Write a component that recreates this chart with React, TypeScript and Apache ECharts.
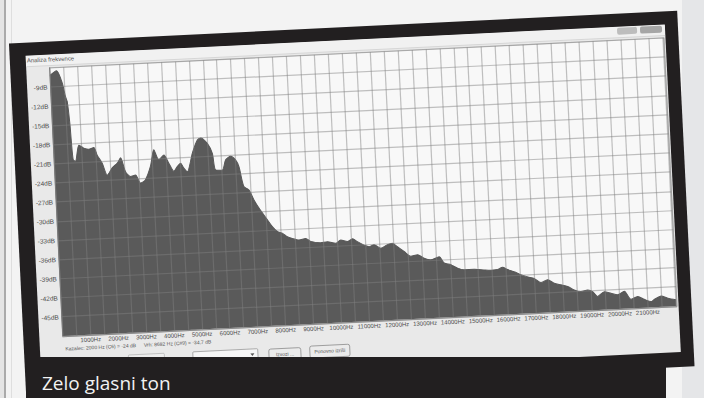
import React, { useEffect, useRef } from 'react';
import * as echarts from 'echarts';

// Spectrum: frequency (Hz) and level (dB)
const freqHz = [0, 245, 430, 520, 575, 630, 685, 765, 915, 1085, 1265, 1445, 1555, 1720, 1880, 2070, 2260, 2385, 2540, 2710, 2890, 3060, 3240, 3445, 3590, 3750, 3940, 4105, 4270, 4400, 4525, 4635, 4750, 4965, 5165, 5285, 5515, 5680, 5765, 6005, 6145, 6330, 6500, 6610, 6750, 6930, 7090, 7255, 7535, 7700, 7870, 8045, 8220, 8395, 8630, 8875, 9045, 9405, 9645, 9940, 10125, 10360, 10550, 10720, 10955, 11130, 11310, 11545, 11790, 11970, 12145, 12375, 12605, 12850, 13080, 13315, 13620, 13790, 14025, 14260, 14490, 14855, 15210, 15450, 15690, 15875, 16045, 16285, 16515, 16755, 16985, 17220, 17460, 17695, 17930, 18170, 18400, 18640, 18880, 19055, 19225, 19475, 19710, 19945, 20190, 20415, 20660, 20890, 21130, 21250, 21500, 21735, 22030];
const levelDb = [-7.2, -6.5, -8.5, -10.6, -11.4, -14.8, -20.5, -20.8, -18.3, -18.8, -19.0, -18.8, -20.0, -21.3, -23.2, -22.1, -21.4, -20.6, -22.8, -23.6, -23.4, -24.7, -24.2, -22.1, -19.6, -21.2, -20.5, -21.8, -23.1, -22.4, -21.9, -22.7, -23.3, -20.4, -18.4, -18.1, -19.0, -20.6, -23.2, -23.3, -21.7, -21.2, -21.8, -22.9, -26.0, -26.6, -28.2, -29.5, -31.4, -32.5, -33.3, -33.6, -34.2, -34.5, -34.8, -34.6, -35.1, -35.4, -35.3, -35.6, -35.1, -35.4, -35.0, -35.5, -36.1, -36.4, -36.1, -36.7, -36.2, -36.0, -36.6, -37.4, -38.2, -38.0, -38.6, -38.9, -38.5, -39.5, -39.8, -40.4, -40.7, -40.7, -40.9, -41.0, -40.9, -40.6, -41.0, -41.4, -41.9, -42.3, -42.6, -43.3, -42.9, -43.5, -43.8, -44.1, -44.7, -45.0, -44.8, -45.1, -45.9, -45.2, -45.5, -45.8, -45.3, -46.6, -46.2, -46.7, -47.1, -46.8, -46.3, -46.7, -47.0];

// Axis settings
const xMin = 0;
const xMax = 22050;
const xStep = 500;
const xLabelStep = 1000;
const xLabelLast = 21000;
const yMin = -48;
const yMax = -6;
const yStep = 3;

// Texts
const caption = 'Zelo glasni ton';
const windowTitle = 'Analiza frekvence';
const statusCursor = 'Kazalec: 2000 Hz (C6) = -24 dB';
const statusPeak = 'Vrh: 8682 Hz (C#9) = -34,7 dB';
const buttonLabels = ['Izvozi ...', 'Ponovno izriši'];

const uiFont = '"Liberation Sans", "DejaVu Sans", sans-serif';

export default function App() {
  const ref = useRef<HTMLDivElement>(null);

  useEffect(() => {
    if (!ref.current) return;
    const chart = echarts.init(ref.current, null, { renderer: 'svg' });
    const gridLine = { color: 'rgba(128,128,128,0.48)', width: 1.2 };
    chart.setOption({
      animation: false,
      grid: {
        left: 23.3,
        top: 13.3,
        width: 616,
        height: 268.6,
        show: true,
        backgroundColor: '#f8f8f8',
        borderWidth: 1,
        borderColor: '#c4c4c4',
      },
      xAxis: {
        type: 'value',
        min: xMin,
        max: xMax,
        interval: xStep,
        z: 10,
        axisLine: { show: true, lineStyle: { color: '#8c8c8c', width: 1 } },
        axisTick: { show: false },
        axisLabel: {
          fontSize: 6,
          color: '#4a4a4a',
          margin: 2,
          fontFamily: uiFont,
          showMaxLabel: false,
          formatter: (v: number) =>
            v > 0 && v <= xLabelLast && v % xLabelStep === 0 ? `${v}Hz` : '',
        },
        splitLine: { show: true, lineStyle: gridLine },
      },
      yAxis: {
        type: 'value',
        min: yMin,
        max: yMax,
        interval: yStep,
        z: 10,
        axisLine: { show: true, lineStyle: { color: '#7a7a7a', width: 1 } },
        axisTick: { show: false },
        axisLabel: {
          fontSize: 6.5,
          color: '#4a4a4a',
          margin: 3,
          fontFamily: uiFont,
          showMinLabel: false,
          showMaxLabel: false,
          formatter: (v: number) => `${v}dB`,
        },
        splitLine: { show: true, lineStyle: gridLine },
      },
      series: [
        {
          type: 'line',
          data: freqHz.map((f, i) => [f, levelDb[i]]),
          symbol: 'none',
          showSymbol: false,
          smooth: 0.25,
          z: 2,
          lineStyle: { color: '#575757', width: 1 },
          areaStyle: { color: '#5a5a5a', opacity: 1, origin: 'start' },
        },
      ],
      graphic: [
        { type: 'rect', shape: { x: 0, y: 0, width: 640, height: 11 }, style: { fill: '#f1f1f1' }, z: 0 },
        { type: 'line', shape: { x1: 0, y1: 11, x2: 640, y2: 11 }, style: { stroke: '#d6d6d6', lineWidth: 1 }, z: 1 },
        { type: 'text', x: 1, y: 2, style: { text: windowTitle, fontSize: 6, fontFamily: uiFont, fill: '#555555' }, z: 2 },
        { type: 'rect', shape: { x: 592, y: 1, width: 20, height: 7, r: 2 }, style: { fill: '#bdbdbd' }, z: 2 },
        { type: 'rect', shape: { x: 615, y: 1, width: 22, height: 7, r: 2 }, style: { fill: '#a6a6a6' }, z: 2 },
        { type: 'text', x: 25.5, y: 292, style: { text: statusCursor, fontSize: 5, fontFamily: uiFont, fill: '#555555' }, z: 2 },
        { type: 'text', x: 104, y: 292, style: { text: statusPeak, fontSize: 5, fontFamily: uiFont, fill: '#555555' }, z: 2 },
        { type: 'rect', shape: { x: 88, y: 304, width: 36, height: 12, r: 1 }, style: { fill: '#ededed', stroke: '#b8b8b8', lineWidth: 0.8 }, z: 2 },
        { type: 'rect', shape: { x: 152.5, y: 304, width: 65, height: 12, r: 1 }, style: { fill: '#f6f6f6', stroke: '#9a9a9a', lineWidth: 0.8 }, z: 2 },
        { type: 'polygon', shape: { points: [[210, 308.5], [214, 308.5], [212, 311]] }, style: { fill: '#555555' }, z: 3 },
        { type: 'rect', shape: { x: 228.5, y: 305, width: 32, height: 12, r: 2 }, style: { fill: '#ebebeb', stroke: '#8c8c8c', lineWidth: 0.8 }, z: 2 },
        { type: 'text', x: 244.5, y: 308, style: { text: buttonLabels[0], fontSize: 5, fontFamily: uiFont, fill: '#555555', align: 'center' }, z: 3 },
        { type: 'rect', shape: { x: 269.5, y: 304, width: 40, height: 12, r: 2 }, style: { fill: '#ebebeb', stroke: '#8c8c8c', lineWidth: 0.8 }, z: 2 },
        { type: 'text', x: 289.5, y: 307, style: { text: buttonLabels[1], fontSize: 5, fontFamily: uiFont, fill: '#555555', align: 'center' }, z: 3 },
      ],
    });
    return () => chart.dispose();
  }, []);

  return (
    <div
      style={{
        position: 'fixed',
        left: 0,
        top: 0,
        width: 704,
        height: 398,
        overflow: 'hidden',
        background: '#f3f3f3',
      }}
    >
      <div style={{ position: 'absolute', left: 0, top: 0, width: 4, height: 398, background: '#e4e4e4' }} />
      <div style={{ position: 'absolute', left: 4, top: 0, width: 1.5, height: 398, background: '#aaaaaa' }} />
      <div style={{ position: 'absolute', left: 11, top: 0, width: 1, height: 398, background: '#dedede' }} />
      <div style={{ position: 'absolute', left: 682, top: 0, width: 22, height: 398, background: '#e5e6e8' }} />
      <div
        style={{
          position: 'absolute',
          left: 17,
          top: 27,
          width: 669,
          height: 356,
          background: '#221f20',
          transform: 'rotate(-2.8deg)',
          transformOrigin: '333px 173px',
        }}
      >
        <div
          ref={ref}
          style={{
            position: 'absolute',
            left: 15.5,
            top: 13,
            width: 640,
            height: 328,
            background: '#e9e9e9',
          }}
        />
      </div>
      <div
        style={{
          position: 'absolute',
          left: 26,
          top: 357,
          width: 640,
          height: 41,
          background: '#221f20',
        }}
      >
        <span
          style={{
            position: 'absolute',
            left: 16,
            top: 17,
            fontFamily: '"Open Sans", "Noto Sans", sans-serif',
            fontSize: 19,
            lineHeight: '19px',
            color: '#f2f2f2',
            whiteSpace: 'nowrap',
          }}
        >
          {caption}
        </span>
      </div>
    </div>
  );
}
